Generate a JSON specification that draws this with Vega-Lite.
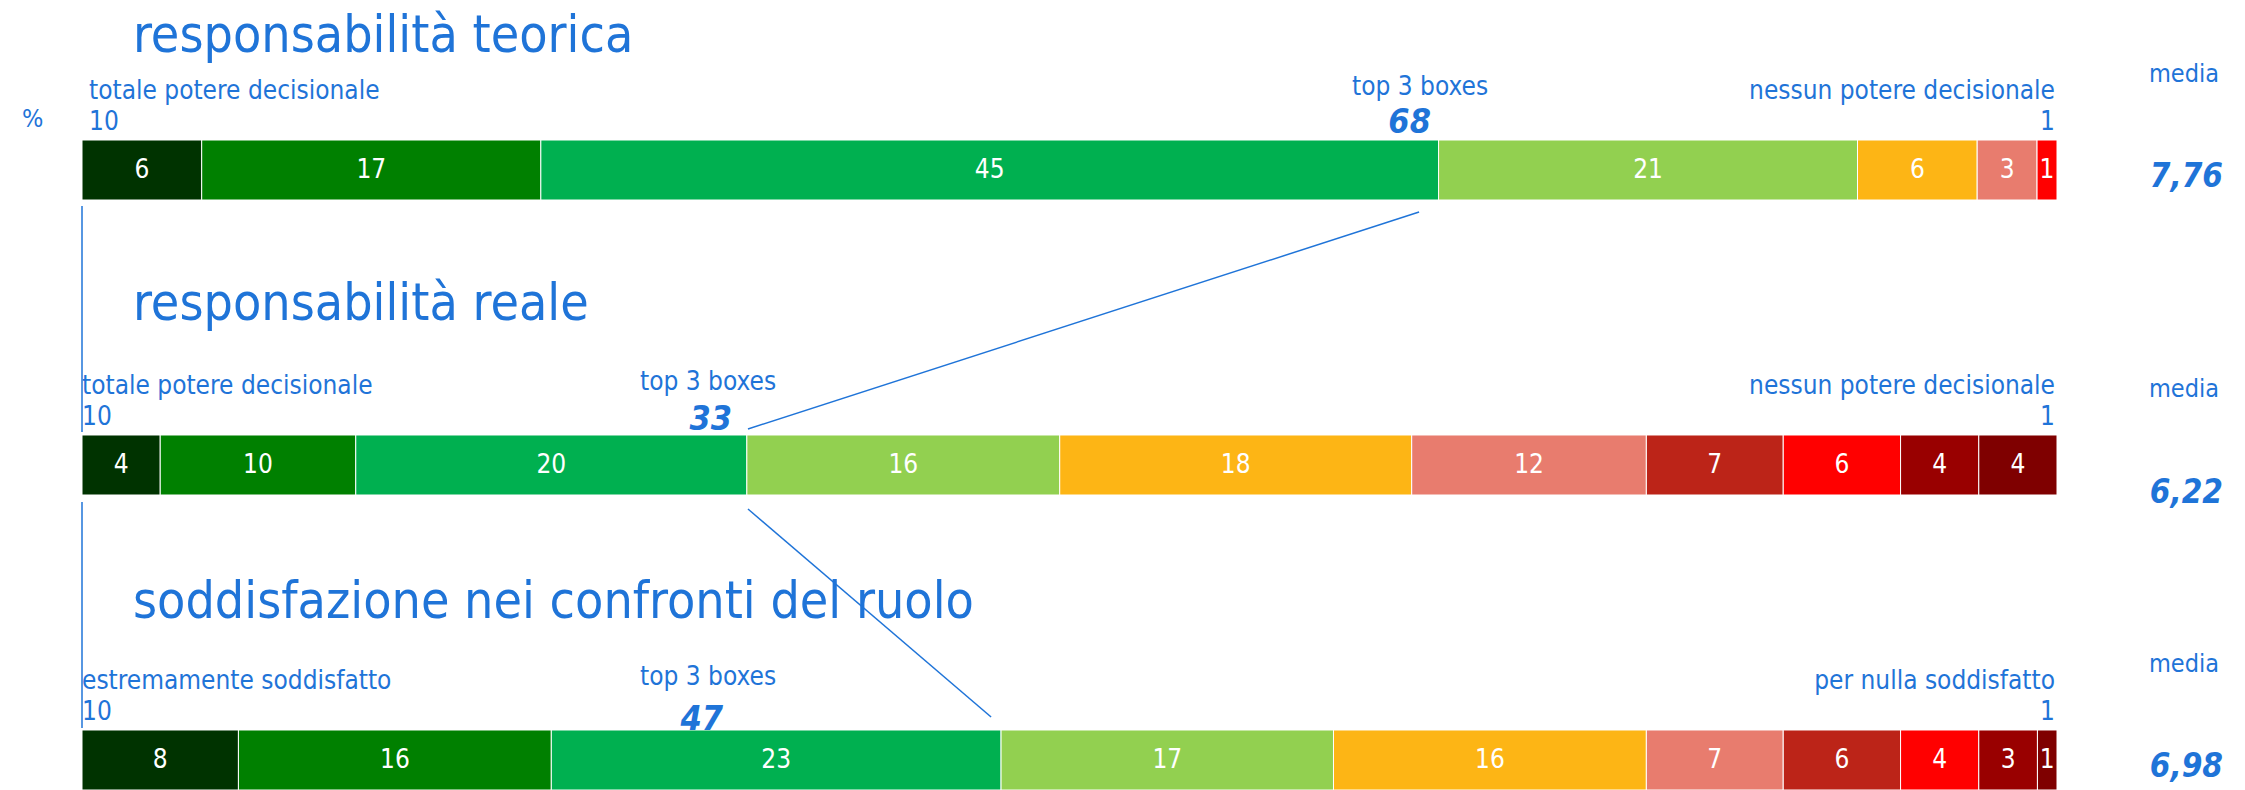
{
  "$schema": "https://vega.github.io/schema/vega-lite/v6.json",
  "width": 2245,
  "height": 790,
  "padding": 0,
  "autosize": {"type": "fit", "contains": "padding"},
  "background": "white",
  "config": {"view": {"stroke": null}, "text": {"font": "DejaVu Sans Condensed, Liberation Sans, sans-serif", "color": "#1F74D8"}},
  "datasets": {
    "segments": [
      {"row": "responsabilità teorica", "level": 10, "value": 6},
      {"row": "responsabilità teorica", "level": 9, "value": 17},
      {"row": "responsabilità teorica", "level": 8, "value": 45},
      {"row": "responsabilità teorica", "level": 7, "value": 21},
      {"row": "responsabilità teorica", "level": 6, "value": 6},
      {"row": "responsabilità teorica", "level": 5, "value": 3},
      {"row": "responsabilità teorica", "level": 3, "value": 1},
      {"row": "responsabilità reale", "level": 10, "value": 4},
      {"row": "responsabilità reale", "level": 9, "value": 10},
      {"row": "responsabilità reale", "level": 8, "value": 20},
      {"row": "responsabilità reale", "level": 7, "value": 16},
      {"row": "responsabilità reale", "level": 6, "value": 18},
      {"row": "responsabilità reale", "level": 5, "value": 12},
      {"row": "responsabilità reale", "level": 4, "value": 7},
      {"row": "responsabilità reale", "level": 3, "value": 6},
      {"row": "responsabilità reale", "level": 2, "value": 4},
      {"row": "responsabilità reale", "level": 1, "value": 4},
      {"row": "soddisfazione nei confronti del ruolo", "level": 10, "value": 8},
      {"row": "soddisfazione nei confronti del ruolo", "level": 9, "value": 16},
      {"row": "soddisfazione nei confronti del ruolo", "level": 8, "value": 23},
      {"row": "soddisfazione nei confronti del ruolo", "level": 7, "value": 17},
      {"row": "soddisfazione nei confronti del ruolo", "level": 6, "value": 16},
      {"row": "soddisfazione nei confronti del ruolo", "level": 5, "value": 7},
      {"row": "soddisfazione nei confronti del ruolo", "level": 4, "value": 6},
      {"row": "soddisfazione nei confronti del ruolo", "level": 3, "value": 4},
      {"row": "soddisfazione nei confronti del ruolo", "level": 2, "value": 3},
      {"row": "soddisfazione nei confronti del ruolo", "level": 1, "value": 1}
    ],
    "info": [
      {"row": "responsabilità teorica", "left": "totale potere decisionale", "leftNum": "10", "right": "nessun potere decisionale", "rightNum": "1", "top3": 68, "media": "7,76"},
      {"row": "responsabilità reale", "left": "totale potere decisionale", "leftNum": "10", "right": "nessun potere decisionale", "rightNum": "1", "top3": 33, "media": "6,22"},
      {"row": "soddisfazione nei confronti del ruolo", "left": "estremamente soddisfatto", "leftNum": "10", "right": "per nulla soddisfatto", "rightNum": "1", "top3": 47, "media": "6,98"}
    ]
  },
  "encoding": {
    "y": {
      "field": "row", "type": "nominal", "axis": null,
      "scale": {"type": "band", "domain": ["responsabilità teorica", "responsabilità reale", "soddisfazione nei confronti del ruolo"], "range": [140, 790], "paddingInner": 0.7966, "paddingOuter": 0}
    }
  },
  "layer": [
    {
      "data": {"name": "segments"},
      "mark": {"type": "bar", "stroke": "white", "strokeWidth": 1},
      "encoding": {
        "x": {"field": "value", "type": "quantitative", "stack": "normalize", "axis": null,
              "scale": {"domain": [-0.04152, 1.09519], "nice": false, "zero": false}},
        "color": {"field": "level", "type": "nominal", "legend": null,
                  "scale": {"domain": [10, 9, 8, 7, 6, 5, 4, 3, 2, 1],
                            "range": ["#003300", "#008000", "#00B050", "#92D050", "#FDB515", "#E87C6E", "#BC2418", "#FF0000", "#990000", "#7F0000"]}},
        "order": {"field": "level", "type": "quantitative", "sort": "descending"}
      }
    },
    {
      "data": {"name": "segments"},
      "mark": {"type": "text", "color": "white", "fontSize": 26, "align": "center", "baseline": "middle"},
      "encoding": {
        "x": {"field": "value", "type": "quantitative", "stack": "normalize", "bandPosition": 0.5},
        "detail": {"field": "level", "type": "nominal"},
        "order": {"field": "level", "type": "quantitative", "sort": "descending"},
        "text": {"field": "value", "type": "quantitative"}
      }
    },
    {
      "data": {"name": "info"},
      "transform": [{"filter": "datum.row === 'responsabilità teorica'"}],
      "mark": {"type": "text", "fontSize": 26, "align": "left", "baseline": "alphabetic", "dy": -71, "dx": 7},
      "encoding": {"x": {"datum": 0, "type": "quantitative"}, "text": {"field": "left"}}
    },
    {
      "data": {"name": "info"},
      "transform": [{"filter": "datum.row === 'responsabilità teorica'"}],
      "mark": {"type": "text", "fontSize": 26, "align": "left", "baseline": "alphabetic", "dy": -40, "dx": 7},
      "encoding": {"x": {"datum": 0, "type": "quantitative"}, "text": {"field": "leftNum"}}
    },
    {
      "data": {"name": "info"},
      "transform": [{"filter": "datum.row !== 'responsabilità teorica'"}],
      "mark": {"type": "text", "fontSize": 26, "align": "left", "baseline": "alphabetic", "dy": -71},
      "encoding": {"x": {"datum": 0, "type": "quantitative"}, "text": {"field": "left"}}
    },
    {
      "data": {"name": "info"},
      "transform": [{"filter": "datum.row !== 'responsabilità teorica'"}],
      "mark": {"type": "text", "fontSize": 26, "align": "left", "baseline": "alphabetic", "dy": -40},
      "encoding": {"x": {"datum": 0, "type": "quantitative"}, "text": {"field": "leftNum"}}
    },
    {
      "data": {"name": "info"},
      "mark": {"type": "text", "fontSize": 26, "align": "right", "baseline": "alphabetic", "dy": -71, "dx": -2},
      "encoding": {"x": {"datum": 1, "type": "quantitative"}, "text": {"field": "right"}}
    },
    {
      "data": {"name": "info"},
      "mark": {"type": "text", "fontSize": 26, "align": "right", "baseline": "alphabetic", "dy": -40, "dx": -2},
      "encoding": {"x": {"datum": 1, "type": "quantitative"}, "text": {"field": "rightNum"}}
    },
    {
      "data": {"name": "info"},
      "transform": [{"filter": "datum.row === 'responsabilità teorica'"}],
      "mark": {"type": "text", "fontSize": 26, "align": "center", "baseline": "alphabetic", "dy": -75},
      "encoding": {"x": {"datum": 0.6775, "type": "quantitative"}, "text": {"value": "top 3 boxes"}}
    },
    {
      "data": {"name": "info"},
      "transform": [{"filter": "datum.row !== 'responsabilità teorica'"}],
      "mark": {"type": "text", "fontSize": 26, "align": "center", "baseline": "alphabetic", "dy": -75},
      "encoding": {"x": {"datum": 0.3170, "type": "quantitative"}, "text": {"value": "top 3 boxes"}}
    },
    {
      "data": {"name": "info"},
      "transform": [{"filter": "datum.row === 'responsabilità teorica'"}],
      "mark": {"type": "text", "fontSize": 34, "fontWeight": "bold", "fontStyle": "italic", "align": "right", "baseline": "alphabetic", "dy": -37},
      "encoding": {"x": {"datum": 0.6830, "type": "quantitative"}, "text": {"field": "top3"}}
    },
    {
      "data": {"name": "info"},
      "transform": [{"filter": "datum.row === 'responsabilità reale'"}],
      "mark": {"type": "text", "fontSize": 34, "fontWeight": "bold", "fontStyle": "italic", "align": "right", "baseline": "alphabetic", "dy": -35},
      "encoding": {"x": {"datum": 0.3291, "type": "quantitative"}, "text": {"field": "top3"}}
    },
    {
      "data": {"name": "info"},
      "transform": [{"filter": "datum.row === 'soddisfazione nei confronti del ruolo'"}],
      "mark": {"type": "text", "fontSize": 34, "fontWeight": "bold", "fontStyle": "italic", "align": "right", "baseline": "alphabetic", "dy": -30},
      "encoding": {"x": {"datum": 0.3246, "type": "quantitative"}, "text": {"field": "top3"}}
    },
    {
      "data": {"name": "info"},
      "transform": [{"filter": "datum.row !== 'responsabilità reale'"}],
      "mark": {"type": "text", "fontSize": 25, "align": "center", "baseline": "alphabetic", "dy": -88},
      "encoding": {"x": {"datum": 1.0643, "type": "quantitative"}, "text": {"value": "media"}}
    },
    {
      "data": {"name": "info"},
      "transform": [{"filter": "datum.row === 'responsabilità reale'"}],
      "mark": {"type": "text", "fontSize": 25, "align": "center", "baseline": "alphabetic", "dy": -68},
      "encoding": {"x": {"datum": 1.0643, "type": "quantitative"}, "text": {"value": "media"}}
    },
    {
      "data": {"name": "info"},
      "transform": [{"filter": "datum.row !== 'responsabilità reale'"}],
      "mark": {"type": "text", "fontSize": 33, "fontWeight": "bold", "fontStyle": "italic", "align": "center", "baseline": "alphabetic", "dy": 17},
      "encoding": {"x": {"datum": 1.0655, "type": "quantitative"}, "text": {"field": "media"}}
    },
    {
      "data": {"name": "info"},
      "transform": [{"filter": "datum.row === 'responsabilità reale'"}],
      "mark": {"type": "text", "fontSize": 33, "fontWeight": "bold", "fontStyle": "italic", "align": "center", "baseline": "alphabetic", "dy": 38},
      "encoding": {"x": {"datum": 1.0655, "type": "quantitative"}, "text": {"field": "media"}}
    },
    {
      "data": {"name": "info"},
      "transform": [{"filter": "datum.row === 'responsabilità teorica'"}],
      "mark": {"type": "text", "fontSize": 51.5, "align": "left", "baseline": "alphabetic", "dy": -118},
      "encoding": {"x": {"datum": 0.0258, "type": "quantitative"}, "text": {"field": "row"}}
    },
    {
      "data": {"name": "info"},
      "transform": [{"filter": "datum.row === 'responsabilità reale'"}],
      "mark": {"type": "text", "fontSize": 51.5, "align": "left", "baseline": "alphabetic", "dy": -145},
      "encoding": {"x": {"datum": 0.0258, "type": "quantitative"}, "text": {"field": "row"}}
    },
    {
      "data": {"name": "info"},
      "transform": [{"filter": "datum.row === 'soddisfazione nei confronti del ruolo'"}],
      "mark": {"type": "text", "fontSize": 51.5, "align": "left", "baseline": "alphabetic", "dy": -142},
      "encoding": {"x": {"datum": 0.0258, "type": "quantitative"}, "text": {"field": "row"}}
    },
    {
      "data": {"name": "info"},
      "transform": [{"filter": "datum.row === 'responsabilità teorica'"}],
      "mark": {"type": "text", "fontSize": 25, "align": "left", "baseline": "alphabetic", "dy": -43},
      "encoding": {"x": {"datum": -0.0304, "type": "quantitative"}, "text": {"value": "%"}}
    },
    {
      "data": {"values": [{}]},
      "mark": {"type": "rule", "color": "#1F74D8", "strokeWidth": 1.5, "yOffset": 36, "y2Offset": -33},
      "encoding": {
        "x": {"datum": 0, "type": "quantitative"},
        "y": {"datum": "responsabilità teorica", "type": "nominal"},
        "y2": {"datum": "responsabilità reale"}
      }
    },
    {
      "data": {"values": [{}]},
      "mark": {"type": "rule", "color": "#1F74D8", "strokeWidth": 1.5, "yOffset": 37, "y2Offset": -32},
      "encoding": {
        "x": {"datum": 0, "type": "quantitative"},
        "y": {"datum": "responsabilità reale", "type": "nominal"},
        "y2": {"datum": "soddisfazione nei confronti del ruolo"}
      }
    },
    {
      "data": {"values": [{}]},
      "mark": {"type": "rule", "color": "#1F74D8", "strokeWidth": 1.5, "yOffset": 42, "y2Offset": -36},
      "encoding": {
        "x": {"datum": 0.677, "type": "quantitative"},
        "x2": {"datum": 0.3372},
        "y": {"datum": "responsabilità teorica", "type": "nominal"},
        "y2": {"datum": "responsabilità reale"}
      }
    },
    {
      "data": {"values": [{}]},
      "mark": {"type": "rule", "color": "#1F74D8", "strokeWidth": 1.5, "yOffset": 44, "y2Offset": -43},
      "encoding": {
        "x": {"datum": 0.3372, "type": "quantitative"},
        "x2": {"datum": 0.4603},
        "y": {"datum": "responsabilità reale", "type": "nominal"},
        "y2": {"datum": "soddisfazione nei confronti del ruolo"}
      }
    }
  ]
}
